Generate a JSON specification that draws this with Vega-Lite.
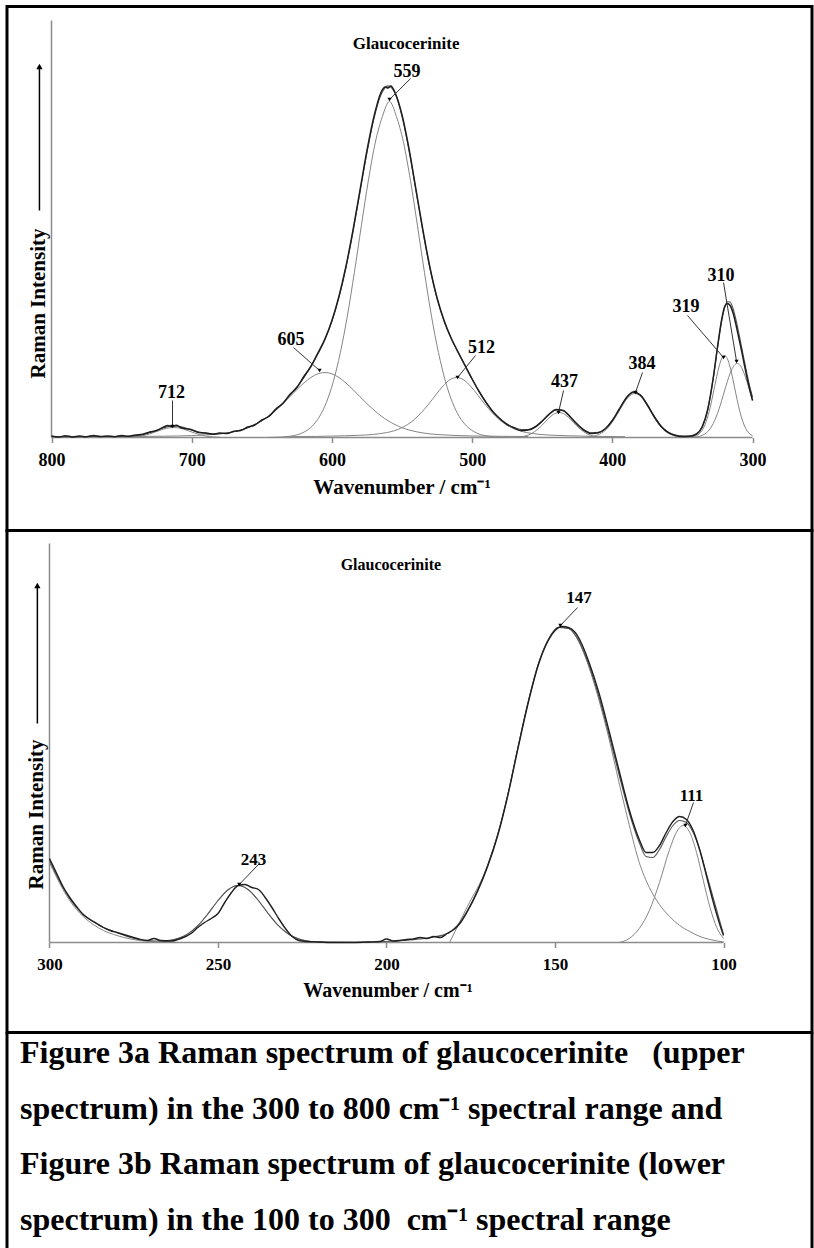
{
  "$schema": "https://vega.github.io/schema/vega-lite/v6.json",
  "background": "white",
  "padding": {"left": 5, "top": 4.5, "right": 0, "bottom": 0},
  "spacing": 0,
  "bounds": "flush",
  "resolve": {"scale": {"x": "independent", "y": "independent"}},
  "config": {
    "view": {"stroke": "black", "strokeWidth": 3},
    "font": "Liberation Serif",
    "text": {"font": "Liberation Serif", "fontWeight": "bold", "color": "black"}
  },
  "datasets": {
    "topBands": [
      {"s":"c712","w":745,"I":0.3},{"s":"c712","w":740,"I":0.8},{"s":"c712","w":735,"I":1.8},{"s":"c712","w":730,"I":3.6},{"s":"c712","w":725,"I":6.0},{"s":"c712","w":720,"I":8.4},{"s":"c712","w":716,"I":9.7},{"s":"c712","w":713,"I":10},{"s":"c712","w":710,"I":9.7},{"s":"c712","w":706,"I":8.4},{"s":"c712","w":702,"I":6.5},{"s":"c712","w":698,"I":4.5},{"s":"c712","w":694,"I":2.8},{"s":"c712","w":690,"I":1.5},{"s":"c712","w":685,"I":0.6},{"s":"c712","w":680,"I":0.2},
      {"s":"c605","w":760,"I":0.8},{"s":"c605","w":740,"I":1.0},{"s":"c605","w":720,"I":1.3},{"s":"c605","w":700,"I":1.9},{"s":"c605","w":690,"I":2.6},{"s":"c605","w":680,"I":3.6},{"s":"c605","w":670,"I":5.8},{"s":"c605","w":660,"I":9.8},{"s":"c605","w":650,"I":16.8},{"s":"c605","w":645,"I":21.6},{"s":"c605","w":640,"I":27.4},{"s":"c605","w":635,"I":33.8},{"s":"c605","w":630,"I":40.8},{"s":"c605","w":625,"I":47.9},{"s":"c605","w":620,"I":54.5},{"s":"c605","w":615,"I":60.0},{"s":"c605","w":610,"I":63.7},{"s":"c605","w":605,"I":65},{"s":"c605","w":600,"I":63.7},{"s":"c605","w":595,"I":60},{"s":"c605","w":590,"I":54.5},{"s":"c605","w":585,"I":47.9},{"s":"c605","w":580,"I":40.8},{"s":"c605","w":575,"I":33.8},{"s":"c605","w":570,"I":27.4},{"s":"c605","w":565,"I":21.6},{"s":"c605","w":560,"I":16.8},{"s":"c605","w":555,"I":12.9},{"s":"c605","w":550,"I":9.8},{"s":"c605","w":545,"I":7.5},{"s":"c605","w":540,"I":5.8},{"s":"c605","w":530,"I":3.6},{"s":"c605","w":520,"I":2.6},{"s":"c605","w":510,"I":1.9},{"s":"c605","w":500,"I":1.55},{"s":"c605","w":480,"I":1.2},{"s":"c605","w":460,"I":0.95},
      {"s":"c559","w":645,"I":0.1},{"s":"c559","w":635,"I":0.6},{"s":"c559","w":629,"I":1.45},{"s":"c559","w":624,"I":3.0},{"s":"c559","w":619,"I":6.1},{"s":"c559","w":614,"I":11.5},{"s":"c559","w":609,"I":20.6},{"s":"c559","w":604,"I":34.9},{"s":"c559","w":599,"I":56.0},{"s":"c559","w":594,"I":84.9},{"s":"c559","w":589,"I":121.4},{"s":"c559","w":584,"I":165},{"s":"c559","w":579,"I":211.9},{"s":"c559","w":574,"I":257.1},{"s":"c559","w":569,"I":295.4},{"s":"c559","w":564,"I":321.0},{"s":"c559","w":559,"I":336},{"s":"c559","w":554,"I":321.0},{"s":"c559","w":549,"I":295.4},{"s":"c559","w":544,"I":257.1},{"s":"c559","w":539,"I":211.9},{"s":"c559","w":534,"I":165},{"s":"c559","w":529,"I":121.4},{"s":"c559","w":524,"I":84.9},{"s":"c559","w":519,"I":56.0},{"s":"c559","w":514,"I":34.9},{"s":"c559","w":509,"I":20.6},{"s":"c559","w":504,"I":11.5},{"s":"c559","w":499,"I":6.1},{"s":"c559","w":494,"I":3.0},{"s":"c559","w":489,"I":1.45},{"s":"c559","w":484,"I":0.6},{"s":"c559","w":475,"I":0.1},
      {"s":"c512","w":631,"I":0.8},{"s":"c512","w":611,"I":1.1},{"s":"c512","w":601,"I":1.4},{"s":"c512","w":591,"I":1.7},{"s":"c512","w":581,"I":2.2},{"s":"c512","w":571,"I":3.0},{"s":"c512","w":566,"I":3.8},{"s":"c512","w":561,"I":4.9},{"s":"c512","w":556,"I":6.6},{"s":"c512","w":551,"I":9.2},{"s":"c512","w":546,"I":13.0},{"s":"c512","w":541,"I":18.3},{"s":"c512","w":536,"I":25.2},{"s":"c512","w":531,"I":33.4},{"s":"c512","w":526,"I":42.5},{"s":"c512","w":521,"I":51.1},{"s":"c512","w":516,"I":57.6},{"s":"c512","w":511,"I":60},{"s":"c512","w":506,"I":57.6},{"s":"c512","w":501,"I":51.1},{"s":"c512","w":496,"I":42.5},{"s":"c512","w":491,"I":33.4},{"s":"c512","w":486,"I":25.2},{"s":"c512","w":481,"I":18.3},{"s":"c512","w":476,"I":13.0},{"s":"c512","w":471,"I":9.2},{"s":"c512","w":466,"I":6.6},{"s":"c512","w":461,"I":4.9},{"s":"c512","w":456,"I":3.8},{"s":"c512","w":451,"I":3.0},{"s":"c512","w":441,"I":2.2},{"s":"c512","w":431,"I":1.7},{"s":"c512","w":421,"I":1.4},{"s":"c512","w":411,"I":1.1},{"s":"c512","w":391,"I":0.8},
      {"s":"c437","w":468,"I":0.3},{"s":"c437","w":463,"I":1.2},{"s":"c437","w":458,"I":3.6},{"s":"c437","w":453,"I":8.5},{"s":"c437","w":450,"I":12.5},{"s":"c437","w":448,"I":15.4},{"s":"c437","w":446,"I":18.4},{"s":"c437","w":443,"I":22.2},{"s":"c437","w":441,"I":24},{"s":"c437","w":438,"I":25},{"s":"c437","w":435,"I":24},{"s":"c437","w":433,"I":22.2},{"s":"c437","w":430,"I":18.4},{"s":"c437","w":428,"I":15.4},{"s":"c437","w":426,"I":12.5},{"s":"c437","w":423,"I":8.5},{"s":"c437","w":418,"I":3.6},{"s":"c437","w":413,"I":1.2},{"s":"c437","w":408,"I":0.3},
      {"s":"c384","w":419,"I":0.3},{"s":"c384","w":414,"I":1.1},{"s":"c384","w":409,"I":3.4},{"s":"c384","w":404,"I":8.5},{"s":"c384","w":399,"I":17.5},{"s":"c384","w":394,"I":29.2},{"s":"c384","w":389,"I":39.7},{"s":"c384","w":384,"I":44},{"s":"c384","w":379,"I":39.7},{"s":"c384","w":374,"I":29.2},{"s":"c384","w":369,"I":17.5},{"s":"c384","w":364,"I":8.5},{"s":"c384","w":359,"I":3.4},{"s":"c384","w":354,"I":1.1},{"s":"c384","w":349,"I":0.3},
      {"s":"c319","w":344,"I":0.3},{"s":"c319","w":340,"I":1.8},{"s":"c319","w":338,"I":3.7},{"s":"c319","w":336,"I":7.0},{"s":"c319","w":334,"I":12.5},{"s":"c319","w":332,"I":20.6},{"s":"c319","w":330,"I":31.4},{"s":"c319","w":328,"I":44.4},{"s":"c319","w":326,"I":58.1},{"s":"c319","w":324,"I":70.4},{"s":"c319","w":322,"I":78.9},{"s":"c319","w":320,"I":82},{"s":"c319","w":318,"I":78.9},{"s":"c319","w":316,"I":70.4},{"s":"c319","w":314,"I":58.1},{"s":"c319","w":312,"I":44.4},{"s":"c319","w":310,"I":31.4},{"s":"c319","w":308,"I":20.6},{"s":"c319","w":306,"I":12.5},{"s":"c319","w":304,"I":7.0},{"s":"c319","w":302,"I":3.7},{"s":"c319","w":300,"I":1.8},
      {"s":"c310","w":343,"I":0.2},{"s":"c310","w":339,"I":0.8},{"s":"c310","w":336,"I":2.1},{"s":"c310","w":333,"I":4.6},{"s":"c310","w":331,"I":7.5},{"s":"c310","w":329,"I":11.5},{"s":"c310","w":327,"I":17.1},{"s":"c310","w":325,"I":24.1},{"s":"c310","w":323,"I":32.4},{"s":"c310","w":321,"I":41.8},{"s":"c310","w":319,"I":51.3},{"s":"c310","w":317,"I":60.2},{"s":"c310","w":315,"I":67.5},{"s":"c310","w":313,"I":72.3},{"s":"c310","w":311,"I":74},{"s":"c310","w":309,"I":72.3},{"s":"c310","w":307,"I":67.5},{"s":"c310","w":305,"I":60.2},{"s":"c310","w":303,"I":51.3},{"s":"c310","w":301,"I":41.8},{"s":"c310","w":300,"I":37}
    ],
    "topFit": [
      {"w":800,"I":0.8},{"w":790,"I":0.9},{"w":780,"I":0.9},{"w":770,"I":1.0},{"w":760,"I":1.0},{"w":750,"I":1.0},{"w":740,"I":1.8},{"w":735,"I":2.8},{"w":730,"I":4.7},{"w":725,"I":7.2},{"w":720,"I":9.7},{"w":715,"I":11.3},{"w":710,"I":11.3},{"w":705,"I":9.7},{"w":700,"I":7.4},{"w":695,"I":5.4},{"w":690,"I":4.1},{"w":685,"I":3.6},{"w":680,"I":3.8},{"w":675,"I":4.5},{"w":670,"I":5.8},{"w":665,"I":7.5},{"w":660,"I":9.8},{"w":655,"I":12.9},{"w":650,"I":16.8},{"w":645,"I":21.6},{"w":640,"I":27.5},{"w":635,"I":34.3},{"w":630,"I":42.1},{"w":625,"I":50.6},{"w":620,"I":59.9},{"w":615,"I":71.3},{"w":610,"I":83.5},{"w":605,"I":97.8},{"w":600,"I":116.2},{"w":595,"I":140.2},{"w":590,"I":169.9},{"w":585,"I":205.6},{"w":580,"I":245.4},{"w":575,"I":285},{"w":570,"I":319.2},{"w":565,"I":342.7},{"w":560,"I":351.6},{"w":555,"I":344.1},{"w":550,"I":321.3},{"w":545,"I":287.2},{"w":540,"I":246.5},{"w":535,"I":205.5},{"w":530,"I":168.5},{"w":525,"I":138.9},{"w":520,"I":116.2},{"w":515,"I":99.1},{"w":510,"I":84.8},{"w":505,"I":71.5},{"w":500,"I":58.2},{"w":495,"I":45.7},{"w":490,"I":34.7},{"w":485,"I":25.5},{"w":480,"I":18.7},{"w":475,"I":13.4},{"w":470,"I":9.9},{"w":465,"I":8.0},{"w":460,"I":8.0},{"w":455,"I":10.7},{"w":450,"I":16.3},{"w":445,"I":23.0},{"w":440,"I":27.5},{"w":435,"I":26.8},{"w":430,"I":20.8},{"w":425,"I":13.5},{"w":420,"I":7.6},{"w":415,"I":4.7},{"w":410,"I":5.1},{"w":405,"I":8.9},{"w":400,"I":16.9},{"w":395,"I":28.2},{"w":390,"I":39.4},{"w":385,"I":45.1},{"w":380,"I":42.5},{"w":375,"I":32.8},{"w":370,"I":20.9},{"w":365,"I":11.1},{"w":360,"I":5.2},{"w":355,"I":2.4},{"w":350,"I":1.4},{"w":345,"I":1.35},{"w":340,"I":3.3},{"w":336,"I":10.0},{"w":332,"I":27.4},{"w":328,"I":59.4},{"w":325,"I":89.5},{"w":322,"I":116.8},{"w":320,"I":129.4},{"w":318,"I":135.7},{"w":316,"I":135.5},{"w":314,"I":129.3},{"w":312,"I":118.9},{"w":310,"I":105.9},{"w":308,"I":91.8},{"w":306,"I":77.6},{"w":304,"I":63.8},{"w":302,"I":51.1},{"w":300,"I":40.5}
    ],
    "topMeas": [
      {"w":800,"I":1.5},{"w":795,"I":0.5},{"w":790,"I":1.8},{"w":785,"I":0.6},{"w":780,"I":1.4},{"w":775,"I":0.8},{"w":770,"I":2.0},{"w":765,"I":1.0},{"w":760,"I":1.6},{"w":755,"I":0.8},{"w":750,"I":2.0},{"w":745,"I":1.2},{"w":740,"I":2.6},{"w":735,"I":3.2},{"w":730,"I":5.5},{"w":725,"I":7.0},{"w":720,"I":10.5},{"w":717,"I":12.0},{"w":714,"I":11.0},{"w":711,"I":12.2},{"w":708,"I":10.0},{"w":705,"I":9.0},{"w":700,"I":7.8},{"w":695,"I":5.0},{"w":690,"I":4.6},{"w":685,"I":3.2},{"w":680,"I":4.4},{"w":675,"I":4.0},{"w":670,"I":6.2},{"w":665,"I":7.0},{"w":660,"I":10.5},{"w":655,"I":12.5},{"w":650,"I":17.5},{"w":645,"I":21.0},{"w":640,"I":28.5},{"w":635,"I":34.0},{"w":630,"I":43.0},{"w":625,"I":50.0},{"w":620,"I":61.0},{"w":615,"I":71.0},{"w":610,"I":84.5},{"w":605,"I":98.5},{"w":600,"I":117.0},{"w":595,"I":141.0},{"w":590,"I":171.0},{"w":585,"I":207.0},{"w":580,"I":247.0},{"w":575,"I":287.0},{"w":570,"I":321.0},{"w":565,"I":345.0},{"w":562,"I":350.5},{"w":560,"I":349.5},{"w":558,"I":351.5},{"w":555,"I":345.0},{"w":550,"I":322.5},{"w":545,"I":288.5},{"w":540,"I":247.5},{"w":535,"I":206.5},{"w":530,"I":169.5},{"w":525,"I":139.5},{"w":520,"I":117.0},{"w":515,"I":99.5},{"w":510,"I":85.5},{"w":505,"I":72.0},{"w":500,"I":58.5},{"w":495,"I":46.0},{"w":490,"I":35.0},{"w":485,"I":25.5},{"w":480,"I":18.5},{"w":475,"I":13.0},{"w":470,"I":9.5},{"w":465,"I":7.0},{"w":460,"I":7.5},{"w":455,"I":10.5},{"w":450,"I":16.5},{"w":445,"I":23.5},{"w":440,"I":28.0},{"w":435,"I":27.0},{"w":430,"I":20.5},{"w":425,"I":13.0},{"w":420,"I":7.0},{"w":415,"I":4.0},{"w":410,"I":4.8},{"w":405,"I":8.8},{"w":400,"I":17.0},{"w":395,"I":28.5},{"w":390,"I":39.8},{"w":385,"I":45.5},{"w":380,"I":42.5},{"w":375,"I":32.5},{"w":370,"I":20.5},{"w":365,"I":10.8},{"w":360,"I":4.8},{"w":355,"I":2.0},{"w":350,"I":1.0},{"w":345,"I":1.2},{"w":340,"I":3.5},{"w":336,"I":10.5},{"w":332,"I":28.0},{"w":328,"I":60.0},{"w":325,"I":90.5},{"w":322,"I":118.0},{"w":320,"I":130.5},{"w":318,"I":134.0},{"w":316,"I":132.0},{"w":314,"I":125.0},{"w":312,"I":114.0},{"w":310,"I":101.0},{"w":308,"I":88.0},{"w":306,"I":74.0},{"w":304,"I":60.0},{"w":302,"I":48.0},{"w":300,"I":37.0}
    ],
    "topFrame": [
      {"w":800,"I":0,"w2":300,"I2":0},
      {"w":800,"I":0,"w2":800,"I2":417}
    ],
    "topLeaders": [
      {"w":713.7,"I":37,"w2":713.7,"I2":11},
      {"w":627.4,"I":90,"w2":608.8,"I2":67},
      {"w":543.9,"I":359,"w2":558.9,"I2":338},
      {"w":497.6,"I":82,"w2":510.4,"I2":60},
      {"w":434.8,"I":47,"w2":438.4,"I2":25},
      {"w":378.5,"I":65,"w2":383.5,"I2":45},
      {"w":346.4,"I":122,"w2":320.7,"I2":80},
      {"w":320.7,"I":155,"w2":311.4,"I2":76}
    ],
    "topLabels": [
      {"t":"712","w":714.4,"I":44.5},
      {"t":"605","w":629.2,"I":98},
      {"t":"559","w":546.4,"I":366},
      {"t":"512","w":493.3,"I":89.5},
      {"t":"437","w":434.1,"I":56},
      {"t":"384","w":378.8,"I":73.5},
      {"t":"319","w":347.4,"I":130.5},
      {"t":"310","w":322.5,"I":162}
    ],
    "topTitle": [{"t":"Glaucocerinite","w":547.1,"I":394}],
    "topYLab": [{"t":"Raman Intensity","w":808.6,"I":134}],
    "topArrow": [{"w":808.6,"I":227,"w2":808.6,"I2":371}],
    "topArrowHead": [{"w":808.6,"I":371}],
    "botBands": [
      {"s":"c300","w":300,"I":80},{"s":"c300","w":298,"I":66},{"s":"c300","w":296,"I":53},{"s":"c300","w":294,"I":42},{"s":"c300","w":292,"I":33},{"s":"c300","w":290,"I":26},{"s":"c300","w":287,"I":18},{"s":"c300","w":284,"I":12},{"s":"c300","w":280,"I":7},{"s":"c300","w":276,"I":3.5},{"s":"c300","w":272,"I":1.5},{"s":"c300","w":268,"I":0.5},{"s":"c300","w":262,"I":0},
      {"s":"c243","w":268,"I":0.4},{"s":"c243","w":265,"I":1.3},{"s":"c243","w":262,"I":3.6},{"s":"c243","w":259,"I":8.3},{"s":"c243","w":256,"I":16.6},{"s":"c243","w":253,"I":28.5},{"s":"c243","w":250,"I":41.9},{"s":"c243","w":247,"I":52.8},{"s":"c243","w":244,"I":57},{"s":"c243","w":241,"I":52.8},{"s":"c243","w":238,"I":41.9},{"s":"c243","w":235,"I":28.5},{"s":"c243","w":232,"I":16.6},{"s":"c243","w":229,"I":8.3},{"s":"c243","w":226,"I":3.6},{"s":"c243","w":223,"I":1.3},{"s":"c243","w":220,"I":0.4},
      {"s":"c147","w":181.3,"I":0},{"s":"c147","w":176,"I":36},{"s":"c147","w":170.6,"I":72},{"s":"c147","w":167,"I":108},{"s":"c147","w":164,"I":148},{"s":"c147","w":161,"I":195},{"s":"c147","w":158,"I":240},{"s":"c147","w":155,"I":278},{"s":"c147","w":152,"I":303},{"s":"c147","w":149,"I":315},{"s":"c147","w":146,"I":314},{"s":"c147","w":143,"I":301},{"s":"c147","w":140,"I":276},{"s":"c147","w":137,"I":243},{"s":"c147","w":134,"I":204},{"s":"c147","w":131,"I":160},{"s":"c147","w":128,"I":118},{"s":"c147","w":125,"I":80},{"s":"c147","w":122,"I":55},{"s":"c147","w":119,"I":38},{"s":"c147","w":116,"I":26},{"s":"c147","w":113,"I":17},{"s":"c147","w":110,"I":11},{"s":"c147","w":107,"I":6},{"s":"c147","w":104,"I":3},{"s":"c147","w":100,"I":0.5},
      {"s":"c111","w":131,"I":0},{"s":"c111","w":128,"I":4},{"s":"c111","w":125,"I":14},{"s":"c111","w":122,"I":32},{"s":"c111","w":119,"I":60},{"s":"c111","w":116,"I":93},{"s":"c111","w":114,"I":110},{"s":"c111","w":112,"I":117},{"s":"c111","w":110,"I":110},{"s":"c111","w":108,"I":90},{"s":"c111","w":106,"I":62},{"s":"c111","w":104,"I":35},{"s":"c111","w":102,"I":15},{"s":"c111","w":100,"I":4}
    ],
    "botFit": [
      {"w":300,"I":82},{"w":298,"I":68},{"w":296,"I":55},{"w":294,"I":44},{"w":292,"I":35},{"w":290,"I":28},{"w":287,"I":21},{"w":284,"I":15},{"w":280,"I":10},{"w":276,"I":5},{"w":272,"I":2.2},{"w":268,"I":1.5},{"w":265,"I":2.0},{"w":262,"I":4},{"w":259,"I":8.6},{"w":256,"I":16.8},{"w":253,"I":28.6},{"w":250,"I":42},{"w":247,"I":52.8},{"w":244,"I":57},{"w":241,"I":52.8},{"w":238,"I":42},{"w":235,"I":28.5},{"w":232,"I":16.6},{"w":229,"I":8.3},{"w":226,"I":3.6},{"w":223,"I":1.3},{"w":220,"I":0.5},{"w":210,"I":0.3},{"w":200,"I":1},{"w":195,"I":2},{"w":190,"I":3.5},{"w":186,"I":5.5},{"w":182,"I":9},{"w":179,"I":17},{"w":176,"I":32},{"w":173,"I":52},{"w":170,"I":77},{"w":167,"I":108},{"w":164,"I":148},{"w":161,"I":195},{"w":158,"I":240},{"w":155,"I":278},{"w":152,"I":303},{"w":149,"I":315},{"w":146,"I":314},{"w":143,"I":302},{"w":140,"I":278},{"w":137,"I":246},{"w":134,"I":208},{"w":131,"I":168},{"w":128,"I":130},{"w":125,"I":100},{"w":123,"I":86},{"w":121,"I":85},{"w":119,"I":93},{"w":117,"I":106},{"w":115,"I":117},{"w":113,"I":122},{"w":111,"I":120},{"w":109,"I":110},{"w":107,"I":92},{"w":105,"I":68},{"w":103,"I":44},{"w":101,"I":20},{"w":100,"I":8}
    ],
    "botMeas": [
      {"w":300,"I":84},{"w":298,"I":70},{"w":296,"I":56},{"w":294,"I":45},{"w":292,"I":36},{"w":290,"I":28},{"w":288,"I":23},{"w":286,"I":19},{"w":284,"I":15},{"w":282,"I":12},{"w":280,"I":10},{"w":277,"I":7},{"w":274,"I":4},{"w":271,"I":2},{"w":269,"I":4},{"w":267,"I":2},{"w":264,"I":1.5},{"w":261,"I":4},{"w":258,"I":9},{"w":256,"I":15},{"w":254,"I":20},{"w":252,"I":24},{"w":250,"I":29},{"w":248,"I":40},{"w":246,"I":50},{"w":244,"I":57},{"w":242,"I":58},{"w":240,"I":55},{"w":238,"I":53},{"w":236,"I":45},{"w":234,"I":35},{"w":232,"I":24},{"w":230,"I":14},{"w":228,"I":6},{"w":226,"I":2},{"w":224,"I":1},{"w":220,"I":0.5},{"w":215,"I":0},{"w":210,"I":0},{"w":205,"I":0.5},{"w":202,"I":1},{"w":200,"I":3.5},{"w":198,"I":1.5},{"w":196,"I":2},{"w":194,"I":3},{"w":192,"I":3.5},{"w":190,"I":5},{"w":188,"I":4},{"w":186,"I":6},{"w":184,"I":5},{"w":182,"I":9},{"w":180,"I":13},{"w":178,"I":20},{"w":176,"I":31},{"w":173,"I":51},{"w":170,"I":76},{"w":167,"I":107},{"w":164,"I":147},{"w":161,"I":194},{"w":158,"I":239},{"w":155,"I":277},{"w":152,"I":302},{"w":150,"I":312},{"w":148,"I":316},{"w":146,"I":315},{"w":144,"I":310},{"w":142,"I":298},{"w":140,"I":281},{"w":137,"I":250},{"w":134,"I":212},{"w":131,"I":172},{"w":128,"I":133},{"w":125,"I":103},{"w":123,"I":90},{"w":121,"I":90},{"w":119,"I":97},{"w":117,"I":110},{"w":115,"I":121},{"w":113,"I":126},{"w":111,"I":123},{"w":109,"I":112},{"w":107,"I":92},{"w":105,"I":66},{"w":103,"I":40},{"w":101,"I":17},{"w":100,"I":7}
    ],
    "botFrame": [
      {"w":300,"I":0,"w2":100,"I2":0},
      {"w":300,"I":0,"w2":300,"I2":399}
    ],
    "botLeaders": [
      {"w":143.3,"I":335,"w2":148.4,"I2":317},
      {"w":108.9,"I":140,"w2":111.3,"I2":117},
      {"w":237.7,"I":79,"w2":243.7,"I2":58}
    ],
    "botLabels": [
      {"t":"147","w":142.9,"I":344.5},
      {"t":"111","w":109.5,"I":147},
      {"t":"243","w":239.5,"I":83}
    ],
    "botTitle": [{"t":"Glaucocerinite","w":198.7,"I":378}],
    "botYLab": [{"t":"Raman Intensity","w":303.6,"I":128}],
    "botArrow": [{"w":303.6,"I":219,"w2":303.6,"I2":357}],
    "botArrowHead": [{"w":303.6,"I":357}]
  },
  "vconcat": [
    {
      "width": 805,
      "height": 524,
      "encoding": {
        "x": {"field": "w", "type": "quantitative",
          "scale": {"domain": [257.6, 831.74], "reverse": true, "nice": false, "zero": false},
          "axis": {"values": [800, 700, 600, 500, 400, 300], "format": "d", "domain": false, "grid": false,
            "tickColor": "#8c8c8c", "tickSize": 5, "tickWidth": 1.5,
            "labelFont": "Liberation Serif", "labelFontSize": 18, "labelFontWeight": "bold", "labelColor": "black",
            "labelPadding": 9, "labelFlush": false, "labelOverlap": false, "offset": -93,
            "title": "Wavenumber / cm⁻¹", "titleFont": "Liberation Serif", "titleFontSize": 21, "titleFontWeight": "bold",
            "titleColor": "black", "titleX": 394.5, "titleY": 50, "titleBaseline": "middle"}},
        "y": {"field": "I", "type": "quantitative",
          "scale": {"domain": [-93, 431], "nice": false, "zero": false}, "axis": null}
      },
      "layer": [
        {"data": {"name": "topFrame"}, "mark": {"type": "rule", "color": "#8c8c8c", "strokeWidth": 1.5},
         "encoding": {"x2": {"field": "w2"}, "y2": {"field": "I2"}}},
        {"data": {"name": "topBands"}, "mark": {"type": "line", "interpolate": "monotone", "color": "#858585", "strokeWidth": 1},
         "encoding": {"detail": {"field": "s"}}},
        {"data": {"name": "topFit"}, "mark": {"type": "line", "interpolate": "monotone", "color": "#555555", "strokeWidth": 1.1},
         "encoding": {}},
        {"data": {"name": "topMeas"}, "mark": {"type": "line", "interpolate": "monotone", "color": "#1e1e1e", "strokeWidth": 1.5},
         "encoding": {}},
        {"data": {"name": "topLeaders"}, "mark": {"type": "rule", "color": "#333333", "strokeWidth": 1},
         "encoding": {"x2": {"field": "w2"}, "y2": {"field": "I2"}}},
        {"data": {"name": "topLeaders"}, "mark": {"type": "point", "shape": "triangle-down", "filled": true, "size": 18, "color": "black", "opacity": 1},
         "encoding": {"x": {"field": "w2", "type": "quantitative"}, "y": {"field": "I2", "type": "quantitative"}}},
        {"data": {"name": "topLabels"}, "mark": {"type": "text", "fontSize": 18, "fontWeight": "bold", "align": "center", "baseline": "middle"},
         "encoding": {"text": {"field": "t"}}},
        {"data": {"name": "topTitle"}, "mark": {"type": "text", "fontSize": 17, "fontWeight": "bold", "align": "center", "baseline": "middle"},
         "encoding": {"text": {"field": "t"}}},
        {"data": {"name": "topYLab"}, "mark": {"type": "text", "fontSize": 21, "fontWeight": "bold", "angle": 270, "align": "center", "baseline": "middle"},
         "encoding": {"text": {"field": "t"}}},
        {"data": {"name": "topArrow"}, "mark": {"type": "rule", "color": "black", "strokeWidth": 1.5},
         "encoding": {"x2": {"field": "w2"}, "y2": {"field": "I2"}}},
        {"data": {"name": "topArrowHead"}, "mark": {"type": "point", "shape": "triangle-up", "filled": true, "size": 40, "color": "black", "opacity": 1},
         "encoding": {}}
      ]
    },
    {
      "width": 805,
      "height": 502,
      "encoding": {
        "x": {"field": "w", "type": "quantitative",
          "scale": {"domain": [73.74, 312.61], "reverse": true, "nice": false, "zero": false},
          "axis": {"values": [300, 250, 200, 150, 100], "format": "d", "domain": false, "grid": false,
            "tickColor": "#8c8c8c", "tickSize": 5, "tickWidth": 1.5,
            "labelFont": "Liberation Serif", "labelFontSize": 17, "labelFontWeight": "bold", "labelColor": "black",
            "labelPadding": 9, "labelFlush": false, "labelOverlap": false, "offset": -90,
            "title": "Wavenumber / cm⁻¹", "titleFont": "Liberation Serif", "titleFontSize": 20, "titleFontWeight": "bold",
            "titleColor": "black", "titleX": 380.5, "titleY": 48, "titleBaseline": "middle"}},
        "y": {"field": "I", "type": "quantitative",
          "scale": {"domain": [-90, 412], "nice": false, "zero": false}, "axis": null}
      },
      "layer": [
        {"data": {"name": "botFrame"}, "mark": {"type": "rule", "color": "#8c8c8c", "strokeWidth": 1.5},
         "encoding": {"x2": {"field": "w2"}, "y2": {"field": "I2"}}},
        {"data": {"name": "botBands"}, "mark": {"type": "line", "interpolate": "monotone", "color": "#858585", "strokeWidth": 1},
         "encoding": {"detail": {"field": "s"}}},
        {"data": {"name": "botFit"}, "mark": {"type": "line", "interpolate": "monotone", "color": "#555555", "strokeWidth": 1.1},
         "encoding": {}},
        {"data": {"name": "botMeas"}, "mark": {"type": "line", "interpolate": "monotone", "color": "#1e1e1e", "strokeWidth": 1.4},
         "encoding": {}},
        {"data": {"name": "botLeaders"}, "mark": {"type": "rule", "color": "#333333", "strokeWidth": 1},
         "encoding": {"x2": {"field": "w2"}, "y2": {"field": "I2"}}},
        {"data": {"name": "botLeaders"}, "mark": {"type": "point", "shape": "triangle-down", "filled": true, "size": 18, "color": "black", "opacity": 1},
         "encoding": {"x": {"field": "w2", "type": "quantitative"}, "y": {"field": "I2", "type": "quantitative"}}},
        {"data": {"name": "botLabels"}, "mark": {"type": "text", "fontSize": 17, "fontWeight": "bold", "align": "center", "baseline": "middle"},
         "encoding": {"text": {"field": "t"}}},
        {"data": {"name": "botTitle"}, "mark": {"type": "text", "fontSize": 16, "fontWeight": "bold", "align": "center", "baseline": "middle"},
         "encoding": {"text": {"field": "t"}}},
        {"data": {"name": "botYLab"}, "mark": {"type": "text", "fontSize": 21, "fontWeight": "bold", "angle": 270, "align": "center", "baseline": "middle"},
         "encoding": {"text": {"field": "t"}}},
        {"data": {"name": "botArrow"}, "mark": {"type": "rule", "color": "black", "strokeWidth": 1.5},
         "encoding": {"x2": {"field": "w2"}, "y2": {"field": "I2"}}},
        {"data": {"name": "botArrowHead"}, "mark": {"type": "point", "shape": "triangle-up", "filled": true, "size": 40, "color": "black", "opacity": 1},
         "encoding": {}}
      ]
    },
    {
      "width": 805,
      "height": 216,
      "view": {"stroke": null},
      "data": {"values": [{"side": 0}, {"side": 1}]},
      "mark": {"type": "rule", "color": "black", "strokeWidth": 3},
      "encoding": {
        "x": {"field": "side", "type": "quantitative", "scale": {"domain": [0, 1], "nice": false, "zero": false}, "axis": null},
        "y": {"datum": 0, "type": "quantitative", "scale": {"domain": [0, 1], "nice": false, "zero": false}, "axis": null},
        "y2": {"datum": 1}
      },
      "title": {
        "text": [
          "Figure 3a Raman spectrum of glaucocerinite \u00a0\u00a0(upper",
          "spectrum) in the 300 to 800 cm⁻¹ spectral range and",
          "Figure 3b Raman spectrum of glaucocerinite (lower",
          "spectrum) in the 100 to 300 \u00a0cm⁻¹ spectral range"
        ],
        "orient": "top", "anchor": "start", "frame": "group", "offset": -231, "baseline": "alphabetic", "dx": 13,
        "font": "Liberation Serif", "fontSize": 32, "fontWeight": "bold", "color": "black", "lineHeight": 55.6
      }
    }
  ]
}
